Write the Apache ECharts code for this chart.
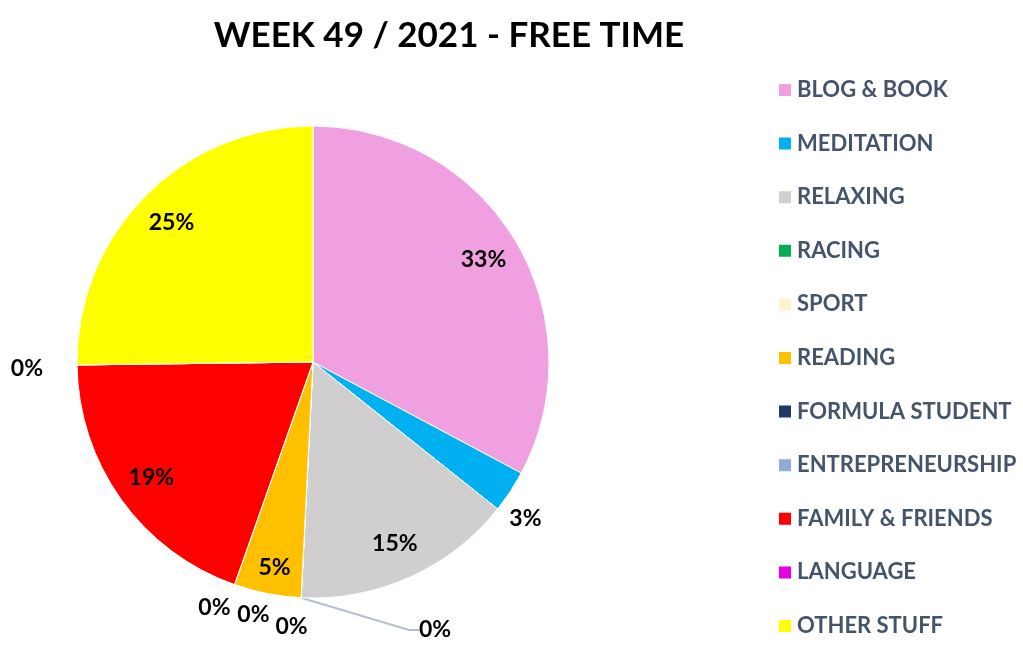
<!DOCTYPE html>
<html><head><meta charset="utf-8">
<script src="https://cdn.jsdelivr.net/npm/echarts@6/dist/echarts.min.js"></script>
<style>html,body{margin:0;padding:0;background:#fff}#c{width:1023px;height:650px}</style>
</head><body><div id="c"></div>
<script>
const title = 'WEEK 49 / 2021 - FREE TIME';
const categories = ['BLOG & BOOK','MEDITATION','RELAXING','RACING','SPORT','READING','FORMULA STUDENT','ENTREPRENEURSHIP','FAMILY & FRIENDS','LANGUAGE','OTHER STUFF'];
const shares = [32.8, 2.9, 15.1, 0, 0, 4.6, 0, 0, 19.4, 0, 25.2];
const colors = ['#F0A0E0','#00B0F0','#D0CECE','#00B050','#FFF2CC','#FFC000','#203864','#8FAADC','#FF0000','#E600E6','#FFFF00'];

// label nudges for the small / zero slices (text only)
const nudge = {1:[-10,10], 4:[-8,-1], 5:[0,10], 6:[29,2], 7:[-10,-5], 9:[-20,3]};

const chart = echarts.init(document.getElementById('c'));
const R = 236, C = [313, 362];
const fmt = p => Math.round(p.percent) + '%';
const labelFont = {fontFamily:'Lato', fontWeight:'bold', fontSize:23, color:'#000'};

chart.setOption({
  animation:false,
  color: colors,
  title:{text:title, left:444, top:13, textAlign:'center',
    textStyle:{fontFamily:'Lato', fontWeight:'bold', fontSize:35, color:'#000'}},
  legend:{orient:'vertical', left:772, top:74, itemWidth:14, itemHeight:14, itemGap:31.6,
    icon:'rect', data:categories,
    textStyle:{fontFamily:'Lato', fontWeight:'bold', fontSize:22, lineHeight:22, color:'#44546A'}},
  series:[
    {type:'pie', name:'main', center:C, radius:R, startAngle:90, clockwise:true,
     avoidLabelOverlap:false, minShowLabelAngle:0,
     itemStyle:{borderColor:'#fff', borderWidth:1},
     data: categories.map((n,i)=>({name:n, value:shares[i],
        label:{show:i===3, position:'outside', formatter:fmt, ...labelFont},
        labelLine:{show:i===3, length:10, length2:10, lineStyle:{color:'#B4C0D0', width:2}}})),
     labelLayout: p => p.dataIndex===3 ? {x:C[0]+106, y:C[1]+268, align:'left', verticalAlign:'middle'} : {},
     emphasis:{disabled:true}},
    {type:'pie', name:'inner', center:C, radius:[R*0.66, R], startAngle:90, silent:true,
     avoidLabelOverlap:false, itemStyle:{color:'rgba(0,0,0,0)'},
     data: categories.map((n,i)=>({name:n, value:shares[i], label:{offset: nudge[i]||[0,0]}})),
     label:{show:true, position:'inside', formatter:p=>p.value>=4?fmt(p):'', ...labelFont},
     labelLine:{show:false}, emphasis:{disabled:true}},
    {type:'pie', name:'outer', center:C, radius:[R, R*1.23], startAngle:90, silent:true,
     avoidLabelOverlap:false, minShowLabelAngle:0, itemStyle:{color:'rgba(0,0,0,0)'},
     data: categories.map((n,i)=>({name:n, value:shares[i],
        label:{show: shares[i]<4 && i!==3, offset: nudge[i]||[0,0]}})),
     label:{position:'inside', formatter:fmt, ...labelFont},
     labelLine:{show:false}, emphasis:{disabled:true}}
  ]
});
</script></body></html>
